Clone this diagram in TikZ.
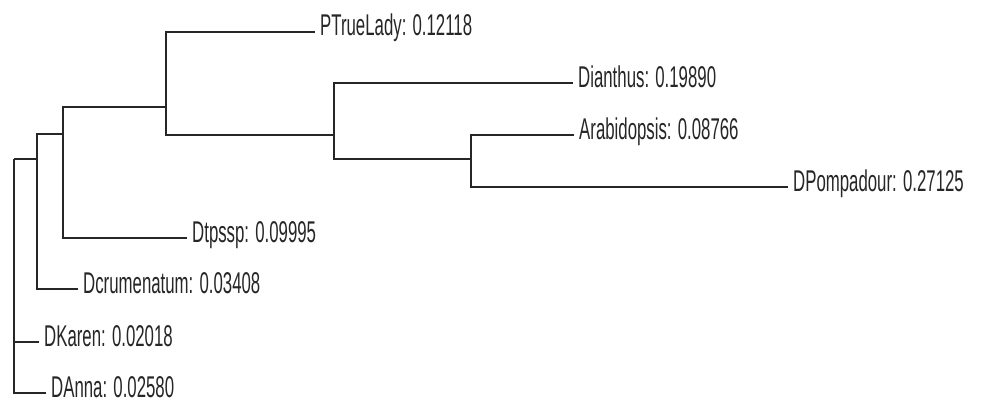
\documentclass[tikz,border=0pt]{standalone}
\usepackage{fontspec}
\newfontfamily\treefont[FakeStretch=0.56]{Liberation Sans}
\usetikzlibrary{positioning}
\tikzset{
  branch/.style={black!85, line width=1.8pt},
  leaf/.style={anchor=base west, inner sep=0pt, xshift=5pt, yshift=-4pt,
               text=black!85, font=\treefont\fontsize{30}{36}\selectfont},
}

\begin{document}
\begin{tikzpicture}[x=1pt, y=-1pt]
    \useasboundingbox (0,0) rectangle (1001,412);
    % internal nodes
    \coordinate (n0) at (14,159);
    \coordinate (n1) at (37,159);
    \coordinate (n2) at (63,134);
    \coordinate (n3) at (166,107);
    \coordinate (n4) at (334,135);
    \coordinate (n5) at (471,159);
    % leaf tips
    \coordinate (tTrue) at (315,32);
    \coordinate (tDian) at (573,83);
    \coordinate (tArab) at (574,135);
    \coordinate (tPomp) at (788,187);
    \coordinate (tTps) at (187,238);
    \coordinate (tCru) at (78,289);
    \coordinate (tKar) at (39,342);
    \coordinate (tAnn) at (46,393);
    % labels
    \node[leaf] (lTrue) at (tTrue) {PTrueLady: 0.12118};
    \node[leaf] (lDian) at (tDian) {Dianthus: 0.19890};
    \node[leaf] (lArab) at (tArab) {Arabidopsis: 0.08766};
    \node[leaf] (lPomp) at (tPomp) {DPompadour: 0.27125};
    \node[leaf] (lTps) at (tTps) {Dtpssp: 0.09995};
    \node[leaf] (lCru) at (tCru) {Dcrumenatum: 0.03408};
    \node[leaf] (lKar) at (tKar) {DKaren: 0.02018};
    \node[leaf] (lAnn) at (tAnn) {DAnna: 0.02580};
    % branches
    \draw[branch] (n0) |- (n1);
    \draw[branch] (n0) |- (tKar);
    \draw[branch] (n0) |- (tAnn);
    \draw[branch] (n1) |- (n2);
    \draw[branch] (n1) |- (tCru);
    \draw[branch] (n2) |- (n3);
    \draw[branch] (n2) |- (tTps);
    \draw[branch] (n3) |- (tTrue);
    \draw[branch] (n3) |- (n4);
    \draw[branch] (n4) |- (tDian);
    \draw[branch] (n4) |- (n5);
    \draw[branch] (n5) |- (tArab);
    \draw[branch] (n5) |- (tPomp);
\end{tikzpicture}
\end{document}
